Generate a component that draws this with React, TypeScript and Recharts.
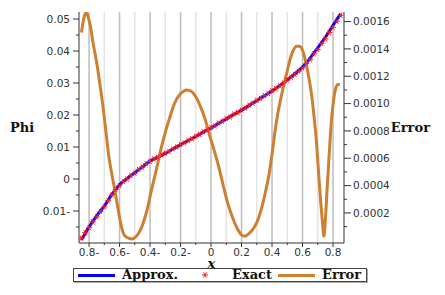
import { LineChart, Line, XAxis, YAxis, CartesianGrid, Legend } from "recharts";

const approxX = [
  -0.85, -0.8, -0.75, -0.7, -0.65, -0.6, -0.55, -0.5, -0.45, -0.4, -0.35, -0.3,
  -0.25, -0.2, -0.15, -0.1, -0.05, 0, 0.05, 0.1, 0.15, 0.2, 0.25, 0.3, 0.35, 0.4,
  0.45, 0.5, 0.55, 0.6, 0.65, 0.7, 0.75, 0.8, 0.85,
];
const approxPhi = [
  -0.019, -0.015, -0.0115, -0.0085, -0.0048, -0.0018, 0.0002, 0.002, 0.0038,
  0.0056, 0.0068, 0.008, 0.0094, 0.0107, 0.012, 0.0133, 0.0147, 0.016, 0.0174,
  0.0188, 0.0202, 0.0215, 0.023, 0.0245, 0.026, 0.0275, 0.0292, 0.031, 0.0329,
  0.035, 0.0378, 0.041, 0.0443, 0.048, 0.0516,
];

const exactX = [
  -0.85, -0.825, -0.8, -0.775, -0.75, -0.725, -0.7, -0.675, -0.65, -0.625, -0.6,
  -0.575, -0.55, -0.525, -0.5, -0.475, -0.45, -0.425, -0.4, -0.375, -0.35, -0.325,
  -0.3, -0.275, -0.25, -0.225, -0.2, -0.175, -0.15, -0.125, -0.1, -0.075, -0.05,
  -0.025, 0, 0.025, 0.05, 0.075, 0.1, 0.125, 0.15, 0.175, 0.2, 0.225, 0.25, 0.275,
  0.3, 0.325, 0.35, 0.375, 0.4, 0.425, 0.45, 0.475, 0.5, 0.525, 0.55, 0.575, 0.6,
  0.625, 0.65, 0.675, 0.7, 0.725, 0.75, 0.775, 0.8, 0.825, 0.85,
];
const exactPhi = [
  -0.0185, -0.0168, -0.0152, -0.0134, -0.0118, -0.0101, -0.0087, -0.0068, -0.005,
  -0.0033, -0.0021, -0.0008, 0.0, 0.0011, 0.0018, 0.003, 0.0037, 0.0048, 0.0055,
  0.0063, 0.0068, 0.0075, 0.0081, 0.0086, 0.0094, 0.01, 0.0108, 0.0113, 0.0121,
  0.0126, 0.0134, 0.014, 0.0148, 0.0153, 0.0161, 0.0166, 0.0175, 0.018, 0.0189,
  0.0194, 0.0203, 0.0208, 0.0216, 0.0222, 0.0231, 0.0237, 0.0246, 0.0252, 0.0261,
  0.0267, 0.0276, 0.0283, 0.0292, 0.03, 0.0309, 0.0318, 0.0327, 0.0337, 0.0347,
  0.0361, 0.0373, 0.0391, 0.0405, 0.0424, 0.0438, 0.0458, 0.0474, 0.0493, 0.0512,
];

const errorX = [
  -0.85, -0.835, -0.82, -0.805, -0.79, -0.775, -0.75, -0.73, -0.71, -0.69, -0.67,
  -0.65, -0.63, -0.61, -0.59, -0.57, -0.55, -0.52, -0.49, -0.47, -0.45, -0.42,
  -0.39, -0.36, -0.33, -0.3, -0.27, -0.24, -0.21, -0.18, -0.16, -0.13, -0.1, -0.07,
  -0.04, -0.01, 0.02, 0.05, 0.08, 0.11, 0.14, 0.17, 0.2, 0.22, 0.25, 0.28, 0.3,
  0.33, 0.36, 0.38, 0.4, 0.42, 0.44, 0.46, 0.48, 0.5, 0.52, 0.54, 0.56, 0.58, 0.6,
  0.62, 0.64, 0.66, 0.675, 0.69, 0.7, 0.71, 0.72, 0.73, 0.74, 0.75, 0.76, 0.77,
  0.78, 0.79, 0.8, 0.815, 0.83, 0.845,
];
const errorVal = [
  0.00152, 0.00162, 0.00167, 0.00163, 0.00156, 0.00145, 0.0013, 0.00115, 0.00099,
  0.0008, 0.00061, 0.00048, 0.00036, 0.00023, 0.00011, 0.00004, 0.00002, 0.00001,
  0.00003, 0.00006, 0.00011, 0.00022, 0.00037, 0.00051, 0.00066, 0.00079, 0.0009,
  0.001, 0.00106, 0.00109, 0.0011, 0.00109, 0.00105, 0.00098, 0.00089, 0.00077,
  0.00066, 0.00054, 0.0004, 0.00027, 0.00017, 0.00009, 0.00004, 0.00003, 0.00005,
  0.00009, 0.00013, 0.00023, 0.00037, 0.00048, 0.00063, 0.0008, 0.00094, 0.00105,
  0.00115, 0.00124, 0.00133, 0.00139, 0.00142, 0.00142, 0.00139, 0.00131, 0.0012,
  0.00106, 0.00091, 0.00074, 0.00058, 0.00042, 0.00027, 0.00014, 0.00003, 0.00015,
  0.00035, 0.00054, 0.00072, 0.00088, 0.00099, 0.0011, 0.00114, 0.00114,
];

const xTicks = [-0.8, -0.7, -0.6, -0.5, -0.4, -0.3, -0.2, -0.1, 0, 0.1, 0.2, 0.3, 0.4, 0.5, 0.6, 0.7, 0.8];
const gridMajor = [-0.8, -0.6, -0.4, -0.2, 0, 0.2, 0.4, 0.6, 0.8];
const gridMinor = [-0.7, -0.5, -0.3, -0.1, 0.1, 0.3, 0.5, 0.7];
const phiTicks = [-0.015, -0.01, -0.005, 0, 0.005, 0.01, 0.015, 0.02, 0.025, 0.03, 0.035, 0.04, 0.045, 0.05];
const errTicks = [
  0.0001, 0.0002, 0.0003, 0.0004, 0.0005, 0.0006, 0.0007, 0.0008, 0.0009, 0.001,
  0.0011, 0.0012, 0.0013, 0.0014, 0.0015, 0.0016,
];

const approxData = approxX.map((x, i) => ({ x, phi: approxPhi[i] }));
const exactData = exactX.map((x, i) => ({ x, phi: exactPhi[i] }));
const errorData = errorX.map((x, i) => ({ x, err: errorVal[i] }));

const AXIS = "#333";
const tickFont = { fontFamily: '"DejaVu Sans", sans-serif', fontSize: 10.5, fill: "#333" };
const serif = '"DejaVu Serif", serif';

const negLabel = (v: number, digits: number) =>
  v === 0 ? "0" : v < 0 ? `${Math.abs(v).toFixed(digits)}-` : v.toFixed(digits);

const XTick = (props: any) => {
  const { x, y, payload } = props;
  const v = payload.value;
  const major = Math.round(v * 10) % 2 === 0;
  return (
    <g>
      <line x1={x} y1={y} x2={x} y2={y + (major ? 4 : 2)} stroke={AXIS} />
      {major && (
        <text x={x} y={y + 13} textAnchor="middle" {...tickFont}>
          {negLabel(v, 1)}
        </text>
      )}
    </g>
  );
};

const LeftTick = (props: any) => {
  const { x, y, payload } = props;
  const v = payload.value;
  const major = Math.round(v * 1000) % 10 === 0;
  return (
    <g>
      <line x1={x - (major ? 6 : 3)} y1={y} x2={x} y2={y} stroke={AXIS} />
      {major && (
        <text x={x - 9} y={y} dy="0.35em" textAnchor="end" {...tickFont}>
          {negLabel(v, 2)}
        </text>
      )}
    </g>
  );
};

const RightTick = (props: any) => {
  const { x, y, payload } = props;
  const v = payload.value;
  const major = Math.round(v * 10000) % 2 === 0;
  return (
    <g>
      <line x1={x} y1={y} x2={x + (major ? 7 : 3)} y2={y} stroke={AXIS} />
      {major && (
        <text x={x + 9} y={y} dy="0.35em" textAnchor="start" {...tickFont}>
          {v.toFixed(4)}
        </text>
      )}
    </g>
  );
};

const Star = (props: any) => {
  const { cx, cy, index } = props;
  if (cx == null || cy == null) return <g key={`s-${index}`} />;
  const r = 3;
  return (
    <g key={`s-${index}`} stroke="#ff1a1a" strokeWidth={1}>
      <line x1={cx - r} y1={cy} x2={cx + r} y2={cy} />
      <line x1={cx - r / 2} y1={cy - r * 0.87} x2={cx + r / 2} y2={cy + r * 0.87} />
      <line x1={cx - r / 2} y1={cy + r * 0.87} x2={cx + r / 2} y2={cy - r * 0.87} />
    </g>
  );
};

const renderLegend = () => (
  <div
    style={{
      position: "relative",
      marginLeft: 73,
      width: 292,
      height: 12,
      border: "1px solid #444",
      boxShadow: "1px 1px 0 #aaa",
      fontFamily: serif,
      fontWeight: "bold",
      fontSize: 13,
      lineHeight: "12px",
      color: "#111",
    }}
  >
    <div style={{ position: "absolute", left: 4, top: 5, width: 37, height: 3, background: "#0000ff" }} />
    <span style={{ position: "absolute", left: 48, top: 0, whiteSpace: "nowrap" }}>Approx.</span>
    <svg style={{ position: "absolute", left: 127, top: 2 }} width={8} height={8}>
      <Star cx={4} cy={4} index={0} />
    </svg>
    <span style={{ position: "absolute", left: 158, top: 0, whiteSpace: "nowrap" }}>Exact</span>
    <div style={{ position: "absolute", left: 204, top: 5, width: 37, height: 3, background: "#cd7f32" }} />
    <span style={{ position: "absolute", left: 248, top: 0, whiteSpace: "nowrap" }}>Error</span>
  </div>
);

export default function App() {
  return (
    <div style={{ position: "absolute", left: 0, top: 0, width: 445, height: 295, background: "#fff" }}>
      <LineChart width={445} height={295} margin={{ top: 12, right: 0, bottom: 0, left: 0 }}>
        <CartesianGrid horizontal={false} verticalValues={gridMinor} stroke="#e4e4e4" strokeWidth={1.5} />
        <CartesianGrid horizontal={false} verticalValues={gridMajor} stroke="#bdbdbd" strokeWidth={1.5} />
        <XAxis
          type="number"
          dataKey="x"
          domain={[-0.866, 0.872]}
          ticks={xTicks}
          interval={0}
          allowDataOverflow
          height={25}
          tickSize={0}
          tickMargin={0}
          tickLine={false}
          tick={<XTick />}
          axisLine={{ stroke: AXIS }}
          label={{
            value: "x",
            position: "insideBottom",
            offset: 0,
            fill: "#111",
            fontFamily: serif,
            fontWeight: "bold",
            fontStyle: "italic",
            fontSize: 13,
          }}
        />
        <YAxis
          yAxisId="left"
          orientation="left"
          width={79}
          domain={[-0.02, 0.0522]}
          ticks={phiTicks}
          interval={0}
          allowDataOverflow
          tickSize={0}
          tickMargin={0}
          tickLine={false}
          tick={<LeftTick />}
          axisLine={{ stroke: AXIS }}
          label={{
            value: "Phi",
            position: "insideLeft",
            offset: 10,
            fill: "#111",
            fontFamily: serif,
            fontWeight: "bold",
            fontSize: 13,
          }}
        />
        <YAxis
          yAxisId="right"
          orientation="right"
          width={101}
          domain={[-0.00002, 0.00167]}
          ticks={errTicks}
          interval={0}
          allowDataOverflow
          tickSize={0}
          tickMargin={0}
          tickLine={false}
          tick={<RightTick />}
          axisLine={{ stroke: AXIS }}
          label={{
            value: "Error",
            position: "insideRight",
            offset: 15,
            fill: "#111",
            fontFamily: serif,
            fontWeight: "bold",
            fontSize: 13,
          }}
        />
        <Legend verticalAlign="bottom" wrapperStyle={{ height: 27 }} content={renderLegend} />
        <Line
          yAxisId="left"
          data={approxData}
          dataKey="phi"
          name="Approx."
          type="monotone"
          stroke="#0000ff"
          strokeWidth={3}
          dot={false}
          isAnimationActive={false}
        />
        <Line
          yAxisId="left"
          data={exactData}
          dataKey="phi"
          name="Exact"
          stroke="none"
          dot={(p: any) => <Star {...p} />}
          activeDot={false}
          isAnimationActive={false}
        />
        <Line
          yAxisId="right"
          data={errorData}
          dataKey="err"
          name="Error"
          type="monotone"
          stroke="#cd7f32"
          strokeWidth={3}
          dot={false}
          isAnimationActive={false}
        />
      </LineChart>
    </div>
  );
}
